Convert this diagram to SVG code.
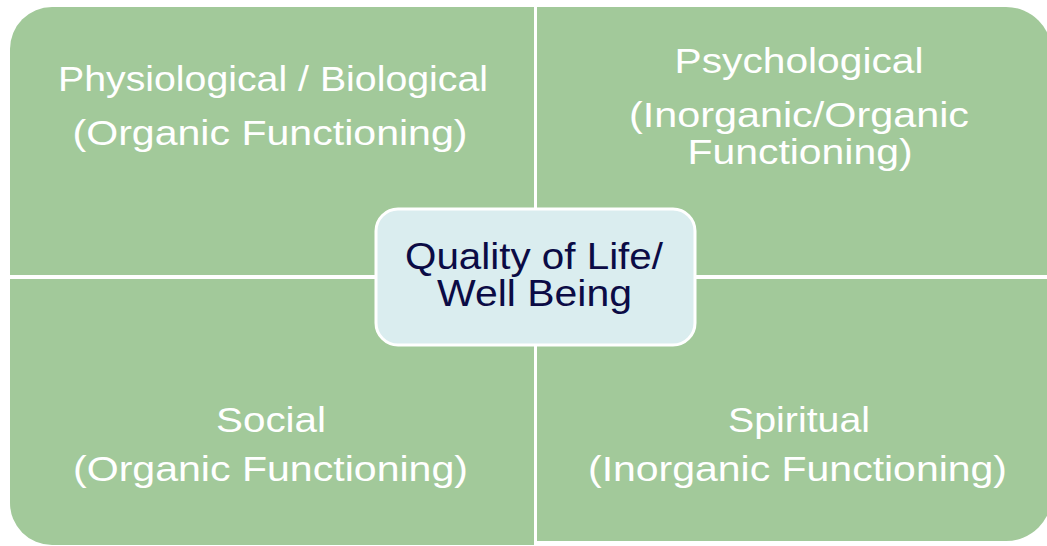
<svg xmlns="http://www.w3.org/2000/svg" width="1047" height="546" viewBox="0 0 1047 546">
<style>
.q{fill:#a2c99a}
.t{font-family:"Liberation Sans",Arial,sans-serif;font-size:35px;fill:#ffffff;text-anchor:middle}
.c{font-family:"Liberation Sans",Arial,sans-serif;font-size:36px;fill:#0b0b45;text-anchor:middle}
</style>
<rect width="1047" height="546" fill="#ffffff"/>
<g id="physiological">
<path class="q" d="M10,49 A42,42 0 0 1 52,7 L534,7 L534,275 L10,275 Z"/>
<text class="t" x="273" y="91" textLength="430" lengthAdjust="spacingAndGlyphs">Physiological / Biological</text>
<text class="t" x="270" y="145" textLength="395" lengthAdjust="spacingAndGlyphs">(Organic Functioning)</text>
</g>
<g id="psychological">
<path class="q" d="M537,7 L1006,7 A46,46 0 0 1 1052,53 L1052,275 L537,275 Z"/>
<text class="t" x="799" y="73" textLength="249" lengthAdjust="spacingAndGlyphs">Psychological</text>
<text class="t" x="799" y="127" textLength="340" lengthAdjust="spacingAndGlyphs">(Inorganic/Organic</text>
<text class="t" x="800" y="164" textLength="225" lengthAdjust="spacingAndGlyphs">Functioning)</text>
</g>
<g id="social">
<path class="q" d="M10,279 L534,279 L534,545 L52,545 A42,42 0 0 1 10,503 Z"/>
<text class="t" x="271" y="432" textLength="110" lengthAdjust="spacingAndGlyphs">Social</text>
<text class="t" x="270.5" y="481" textLength="395" lengthAdjust="spacingAndGlyphs">(Organic Functioning)</text>
</g>
<g id="spiritual">
<path class="q" d="M537,279 L1052,279 L1052,495 A46,46 0 0 1 1006,541 L537,541 Z"/>
<text class="t" x="799" y="432" textLength="142" lengthAdjust="spacingAndGlyphs">Spiritual</text>
<text class="t" x="797.5" y="481" textLength="419" lengthAdjust="spacingAndGlyphs">(Inorganic Functioning)</text>
</g>
<g id="connectors"></g>
<g id="center">
<rect x="376" y="209" width="319" height="136" rx="22" ry="22" fill="#daedef" stroke="#ffffff" stroke-width="3"/>
<text class="c" x="534" y="269" textLength="258" lengthAdjust="spacingAndGlyphs">Quality of Life/</text>
<text class="c" x="534.5" y="306" textLength="195" lengthAdjust="spacingAndGlyphs">Well Being</text>
</g>
</svg>
